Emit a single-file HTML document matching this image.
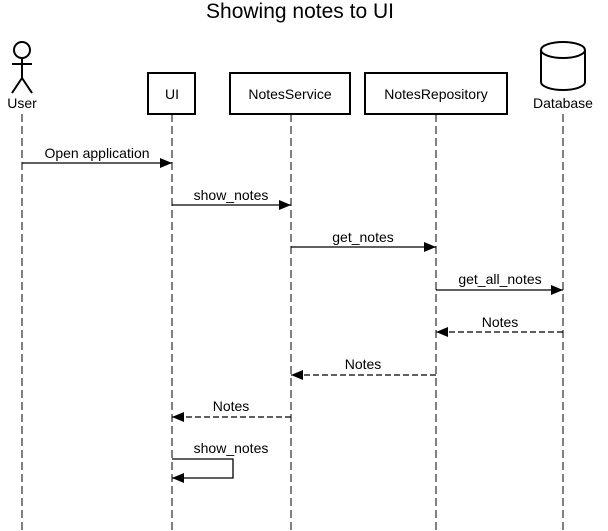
<!DOCTYPE html>
<html><head><style>body{margin:0;background:#fff}svg{display:block}</style></head><body>
<svg width="608" height="531" xmlns="http://www.w3.org/2000/svg" font-family="Liberation Sans, sans-serif">
<defs><marker id="a" markerWidth="12" markerHeight="10" refX="12" refY="5" orient="auto" markerUnits="userSpaceOnUse"><path d="M0,0 L12,5 L0,10 z" fill="#000"/></marker></defs>
<text x="300" y="18" font-size="21" text-anchor="middle">Showing notes to UI</text>
<g stroke="#000" stroke-width="1" stroke-dasharray="8,4" fill="none">
<line x1="22" y1="114" x2="22" y2="531"/><line x1="172" y1="114" x2="172" y2="531"/>
<line x1="291" y1="114" x2="291" y2="531"/><line x1="436" y1="114" x2="436" y2="531"/>
<line x1="563" y1="114" x2="563" y2="531"/></g>
<g stroke="#000" stroke-width="2" fill="#fff">
<circle cx="22" cy="50" r="8"/><line x1="22" y1="58" x2="22" y2="78"/><line x1="12" y1="64" x2="32" y2="64"/>
<line x1="22" y1="78" x2="12" y2="93"/><line x1="22" y1="78" x2="32" y2="93"/>
<rect x="148" y="73" width="47" height="41"/><rect x="230" y="73" width="120" height="41"/><rect x="365" y="73" width="142" height="41"/>
<path d="M541,50 v32 a22,8 0 0 0 44,0 v-32 a22,8 0 0 0 -44,0 a22,8 0 0 0 44,0"/></g>
<g font-size="14" text-anchor="middle"><text x="22" y="108">User</text><text x="172" y="99">UI</text><text x="290" y="99">NotesService</text><text x="436" y="99">NotesRepository</text><text x="563" y="108">Database</text>
<text x="97" y="158">Open application</text><text x="231" y="200">show_notes</text><text x="363" y="242">get_notes</text><text x="500" y="284">get_all_notes</text><text x="500" y="327">Notes</text><text x="363" y="369">Notes</text><text x="231" y="411">Notes</text><text x="231" y="453">show_notes</text></g>
<g stroke="#000" stroke-width="1.3" fill="none">
<line x1="22" y1="163" x2="172" y2="163" marker-end="url(#a)"/>
<line x1="172" y1="205" x2="291" y2="205" marker-end="url(#a)"/>
<line x1="291" y1="247" x2="436" y2="247" marker-end="url(#a)"/>
<line x1="436" y1="290" x2="563" y2="290" marker-end="url(#a)"/>
<line x1="563" y1="332" x2="436" y2="332" stroke-dasharray="6,3" marker-end="url(#a)"/>
<line x1="436" y1="375" x2="291" y2="375" stroke-dasharray="6,3" marker-end="url(#a)"/>
<line x1="291" y1="417" x2="172" y2="417" stroke-dasharray="6,3" marker-end="url(#a)"/>
<path d="M172,459 H233 V478 H172" marker-end="url(#a)"/></g>
</svg></body></html>
